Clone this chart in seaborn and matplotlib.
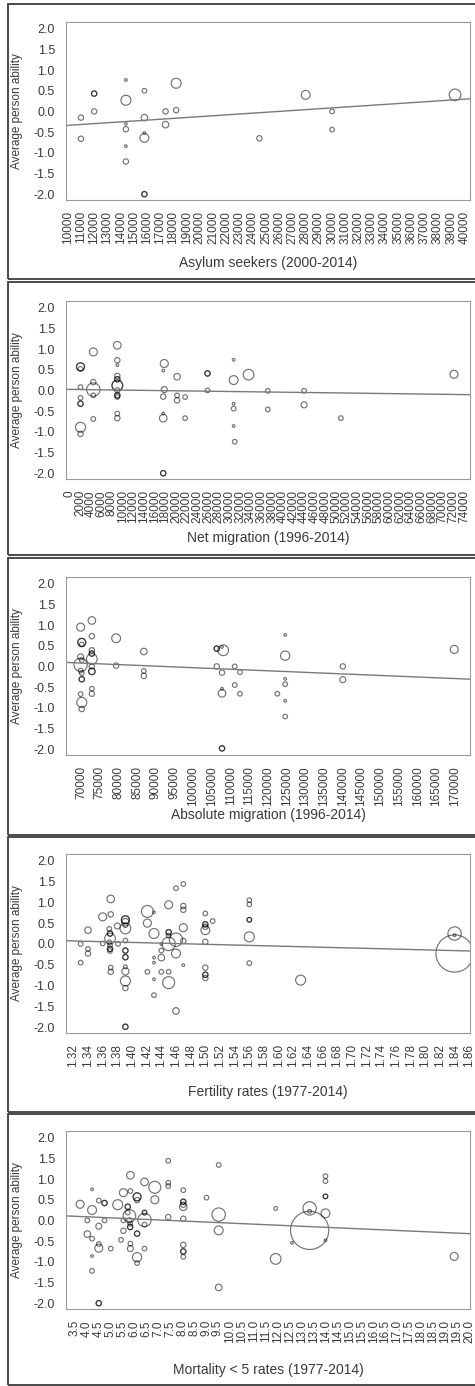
import numpy as np
import pandas as pd
import matplotlib
matplotlib.use("Agg")
import matplotlib.pyplot as plt
from matplotlib.patches import Rectangle
import seaborn as sns

# ---- data (x, average person ability, bubble weight) ----
# duplicated rows = circles drawn on top of each other (they look darker)
asylum_x = [11000, 11000, 12000, 12000, 12000, 14400, 14400, 14400, 14400, 14400, 14400,
            15800, 15800, 15800, 15800, 15800, 15800, 17400, 17400, 18200, 18200,
            24500, 28000, 30000, 30000, 39300]
asylum_y = [-0.15, -0.66, 0.43, 0.43, 0.0, 0.76, 0.27, -0.30, -0.43, -0.84, -1.21,
            0.50, -0.15, -0.52, -0.64, -2.0, -2.0, 0.0, -0.32, 0.68, 0.03,
            -0.65, 0.40, 0.0, -0.44, 0.40]
asylum_w = [4, 4, 4, 4, 4, 1, 14, 1, 4, 1, 4,
            3, 6, 1, 11, 4, 4, 4, 6, 14, 4,
            4, 11, 3, 3, 19]
asylum_fit = [-0.548, 2.11e-5]  # intercept, slope

net_x = [2100, 2100, 2100, 2100, 2100, 2100, 2100, 2100, 2100,
         4500, 4500, 4500, 4500, 4500,
         9000, 9000, 9000, 9000, 9000, 9000, 9000, 9000, 9000, 9000, 9000, 9000, 9000, 9000,
         17800, 17600, 17800, 17600, 17600, 17600, 17600, 17600,
         20200, 20200, 20200, 21700, 21700, 25900, 25900, 25900,
         30800, 30800, 30800, 30800, 30800, 31000, 33600,
         37200, 37200, 44000, 44000, 50900, 72100]
net_y = [0.57, 0.57, 0.52, 0.08, -0.18, -0.32, -0.32, -0.89, -1.05,
         0.93, 0.20, 0.02, -0.12, -0.69,
         1.09, 0.73, 0.61, 0.35, 0.27, 0.27, 0.12, 0.12, 0.0, -0.12, -0.12, -0.16, -0.56, -0.67,
         0.65, 0.48, 0.02, -0.15, -0.56, -0.67, -2.0, -2.0,
         0.33, -0.12, -0.24, -0.16, -0.67, 0.41, 0.41, 0.0,
         0.74, 0.25, -0.32, -0.44, -0.86, -1.24, 0.38,
         -0.01, -0.46, -0.01, -0.35, -0.67, 0.39]
net_w = [9, 9, 3, 3, 3, 4, 4, 14, 4,
         9, 4, 25, 3, 3,
         8, 4, 1, 4, 4, 4, 16, 16, 4, 4, 4, 3, 3, 4,
         9, 1, 5, 4, 1, 8, 4, 4,
         6, 3, 4, 3, 3, 4, 4, 3,
         1, 11, 1, 3, 1, 3, 16,
         3, 3, 3, 5, 3, 9]
net_fit = [0.025, -1.70e-6]

abs_x = [69900, 70200, 70200, 70200, 69900, 69900, 70200, 69900, 70200, 70200, 70200, 69900, 70200, 70200,
         72900, 72900, 72900, 72900, 72900, 72900, 72900, 72900, 72900, 72900, 72900,
         79400, 79400, 86800, 86800, 86800,
         106300, 106300, 107700, 108000, 106300, 107700, 107700, 107700, 107700, 107700,
         111100, 112500, 111100, 112500, 122500,
         124600, 124600, 124600, 124600, 124600, 124600, 140000, 140000, 169800]
abs_y = [0.95, 0.58, 0.58, 0.53, 0.23, 0.04, 0.15, -0.10, -0.16, -0.31, -0.31, -0.67, -0.87, -1.03,
         1.11, 0.73, 0.39, 0.31, 0.31, 0.18, 0.0, -0.12, -0.12, -0.54, -0.66,
         0.68, 0.02, 0.36, -0.11, -0.23,
         0.43, 0.43, 0.47, 0.39, 0.0, -0.15, -0.54, -0.65, -1.98, -1.98,
         0.0, -0.14, -0.45, -0.66, -0.66,
         0.76, 0.26, -0.30, -0.43, -0.83, -1.21, 0.0, -0.32, 0.41]
abs_w = [9, 9, 9, 3, 5, 25, 3, 3, 3, 4, 4, 3, 14, 4,
         8, 4, 4, 4, 4, 16, 4, 6, 6, 3, 4,
         11, 4, 6, 3, 4,
         4, 4, 1, 16, 4, 4, 1, 8, 4, 4,
         3, 3, 3, 3, 3,
         1, 12, 1, 3, 1, 3, 4, 5, 9]
abs_fit = [0.344, -3.75e-6]

fert_x = [1.330, 1.330, 1.340, 1.340, 1.340, 1.360, 1.360,
          1.371, 1.371, 1.369, 1.370, 1.370, 1.370, 1.369, 1.370, 1.370, 1.370, 1.370, 1.371, 1.371,
          1.380, 1.381,
          1.391, 1.391, 1.391, 1.391, 1.391, 1.391, 1.391, 1.391, 1.391, 1.391, 1.391, 1.391, 1.391,
          1.391, 1.391, 1.391,
          1.421, 1.421, 1.421, 1.430, 1.430, 1.430, 1.430, 1.430, 1.430,
          1.440, 1.440, 1.440, 1.440,
          1.450, 1.450, 1.450, 1.450, 1.450, 1.450, 1.450,
          1.460, 1.460, 1.460, 1.460,
          1.470, 1.470, 1.470, 1.470, 1.470, 1.470,
          1.500, 1.500, 1.500, 1.500, 1.500, 1.500, 1.500, 1.500, 1.500, 1.500, 1.510,
          1.560, 1.560, 1.560, 1.560, 1.560, 1.560,
          1.630, 1.840, 1.840, 1.840]
fert_y = [0.0, -0.45, 0.33, -0.12, -0.23, 0.65, 0.01,
          1.08, 0.71, 0.36, 0.25, 0.25, 0.13, 0.04, -0.03, -0.12, -0.12, -0.17, -0.57, -0.67,
          0.43, 0.0,
          0.58, 0.58, 0.52, 0.45, 0.37, 0.08, -0.16, -0.16, -0.32, -0.32, -0.55, -0.66, -0.89,
          -1.06, -1.99, -1.99,
          0.78, 0.50, -0.67, 0.76, 0.25, -0.33, -0.45, -0.85, -1.23,
          0.0, -0.16, -0.33, -0.67,
          0.94, 0.28, 0.28, 0.20, 0.0, -0.67, -0.93,
          1.34, 0.10, -0.23, -1.61,
          1.44, 0.91, 0.82, 0.39, 0.07, -0.51,
          0.73, 0.47, 0.47, 0.41, 0.33, 0.05, -0.57, -0.74, -0.74, -0.82, 0.55,
          1.05, 0.95, 0.58, 0.58, 0.17, -0.46,
          -0.87, 0.25, 0.21, -0.23]
fert_w = [3, 3, 6, 3, 4, 9, 3,
          8, 4, 3, 4, 4, 16, 3, 3, 4, 4, 3, 3, 4,
          5, 3,
          9, 9, 8, 3, 16, 3, 4, 4, 4, 4, 2, 7, 14,
          4, 4, 4,
          20, 9, 3, 1, 14, 1, 1, 1, 3,
          1, 3, 6, 3,
          9, 4, 4, 3, 25, 3, 20,
          3, 25, 11, 6,
          3, 4, 4, 9, 4, 1,
          3, 4, 4, 4, 11, 4, 4, 4, 4, 4, 3,
          3, 3, 3, 3, 14, 3,
          14, 25, 1, 195]
fert_fit = [0.66, -0.446]

mort_x = [3.74, 4.04, 4.04, 4.24, 4.24, 4.24, 4.24, 4.24,
          4.52, 4.52, 4.52, 4.52, 4.52, 4.52, 4.76, 4.76, 4.76, 5.02, 5.31, 5.45,
          5.55, 5.55, 5.55, 5.73, 5.73, 5.73, 5.80, 5.80, 5.83, 5.83, 5.83,
          5.84, 5.84, 5.84, 5.84,
          6.12, 6.12, 6.12, 6.12, 6.12, 6.12, 6.12,
          6.43, 6.43, 6.43, 6.43, 6.43, 6.43, 6.86, 6.86,
          7.42, 7.42, 7.42, 7.42,
          8.05, 8.05, 8.05, 8.05, 8.05, 8.05, 8.05, 8.05, 8.05, 8.05,
          9.02, 9.53, 9.53, 9.53, 9.53,
          11.91, 11.91, 12.59, 13.33, 13.33, 13.33,
          13.99, 13.99, 13.99, 13.99, 13.99, 13.99, 19.37]
mort_y = [0.39, 0.0, -0.33, 0.75, 0.25, -0.44, -0.86, -1.22,
          0.48, -0.14, -0.57, -0.67, -2.0, -2.0, 0.42, 0.42, 0.0, -0.68, 0.38, -0.47,
          0.67, 0.0, -0.25, 0.33, 0.33, 0.19, 0.11, 0.0, -0.08, -0.16, -0.16,
          1.09, 0.71, -0.56, -0.68,
          0.57, 0.57, 0.49, -0.32, -0.32, -0.89, -1.03,
          0.93, 0.19, 0.19, 0.01, -0.10, -0.68, 0.80, 0.50,
          1.44, 0.91, 0.83, 0.08,
          0.73, 0.45, 0.45, 0.38, 0.33, 0.04, -0.59, -0.75, -0.75, -0.88,
          0.55, 1.34, 0.14, -0.24, -1.62,
          0.29, -0.93, -0.54, 0.29, 0.22, -0.24,
          1.07, 0.95, 0.58, 0.58, 0.17, -0.48, -0.87]
mort_w = [9, 3, 6, 1, 11, 3, 1, 3,
          3, 5, 3, 9, 4, 4, 4, 4, 3, 3, 14, 3,
          9, 3, 4, 4, 4, 3, 22, 4, 3, 4, 4,
          8, 3, 3, 5,
          9, 9, 4, 4, 4, 12, 3,
          8, 3, 3, 25, 3, 3, 20, 9,
          3, 3, 3, 4,
          3, 4, 4, 4, 8, 4, 4, 4, 4, 3,
          3, 3, 25, 11, 6,
          2, 16, 1, 25, 2, 205,
          3, 3, 3, 3, 11, 1, 9]
mort_fit = [0.19, -0.0255]

# tick values / labels of the x axes
asylum_ticks = list(range(10000, 40001, 1000))
net_ticks = list(range(0, 74001, 2000))
abs_ticks = list(range(70000, 170001, 5000))
fert_ticks = [round(1.32 + 0.02 * i, 2) for i in range(28)]
mort_ticks = [3.5 + 0.5 * i for i in range(34)]

W, H = 475, 1386

sns.set_style("white")
plt.rcParams["font.family"] = ["Liberation Sans", "DejaVu Sans"]
plt.rcParams["axes.unicode_minus"] = False

fig = plt.figure(figsize=(W / 100, H / 100), dpi=100)

# box_top, box_bottom, frame_top, frame_bottom, xlabel centre (pixels from top)
panels = [
    (asylum_x, asylum_y, asylum_w, asylum_fit, "Asylum seekers (2000-2014)",
     asylum_ticks, [str(t) for t in asylum_ticks], (9870, 40430), 22, 200, 4, 279, 263),
    (net_x, net_y, net_w, net_fit, "Net migration (1996-2014)",
     net_ticks, [str(t) for t in net_ticks], (-620, 75100), 301, 479, 282, 555, 538),
    (abs_x, abs_y, abs_w, abs_fit, "Absolute migration (1996-2014)",
     abs_ticks, [str(t) for t in abs_ticks], (65990, 174010), 577, 755, 558, 835, 815),
    (fert_x, fert_y, fert_w, fert_fit, "Fertility rates (1977-2014)",
     fert_ticks, ["%.2f" % t for t in fert_ticks], (1.310, 1.861), 854, 1033, 837, 1112, 1092),
    (mort_x, mort_y, mort_w, mort_fit, "Mortality < 5 rates (1977-2014)",
     mort_ticks, ["%.1f" % t for t in mort_ticks], (3.15, 20.03), 1131, 1309, 1114, 1385, 1370),
]

ax_left, ax_right = 66, 470
grey = "#9a9a9a"
text_col = "#3a3a3a"

for (xs, ys, ws, fit, xlabel, ticks, labels, xlim,
     btop, bbot, ftop, fbot, xl_y) in panels:
    # outer frame around each panel
    fig.add_artist(Rectangle((8 / W, 1 - fbot / H), (490 - 8) / W, (fbot - ftop) / H,
                             transform=fig.transFigure, fill=False,
                             ec="#3c3c3c", lw=1.3, clip_on=False))

    ax = fig.add_axes([ax_left / W, 1 - bbot / H, (ax_right - ax_left) / W, (bbot - btop) / H])
    df = pd.DataFrame({"x": xs, "y": ys, "w": ws})

    sns.scatterplot(data=df, x="x", y="y", size="w", sizes=(3.7 * 1, 3.7 * 205),
                    size_norm=(1, 205), facecolor="none", edgecolor="black",
                    alpha=0.55, linewidth=0.85, legend=False, ax=ax)
    # fitted regression line
    ax.axline((0, fit[0]), slope=fit[1], color="#7a7a7a", lw=1.0)

    ax.set_xlim(*xlim)
    ax.set_ylim(-2.14, 2.16)
    ax.set_xticks(ticks)
    ax.set_xticklabels(labels, rotation=90)
    yt = np.arange(-2.0, 2.01, 0.5)
    ax.set_yticks(yt)
    ax.set_yticklabels(["%.1f" % v for v in yt])

    for sp in ax.spines.values():
        sp.set_visible(True)
        sp.set_color(grey)
        sp.set_linewidth(0.8)
    ax.tick_params(axis="both", direction="out", length=4, width=0.8, color=grey,
                   labelcolor=text_col)
    ax.tick_params(axis="x", labelsize=8.5, pad=4)
    ax.tick_params(axis="y", labelsize=9, pad=4)

    ax.set_xlabel(xlabel, fontsize=10, color=text_col)
    ax.xaxis.label.set_va("center")
    ax.xaxis.set_label_coords(0.5, -(xl_y - bbot) / (bbot - btop))
    ax.set_ylabel("Average person ability", fontsize=8.5, color=text_col)
    ax.yaxis.label.set_va("center")
    ax.yaxis.set_label_coords(-49 / (ax_right - ax_left), 0.5)

fig.savefig("out.png", dpi=100)
